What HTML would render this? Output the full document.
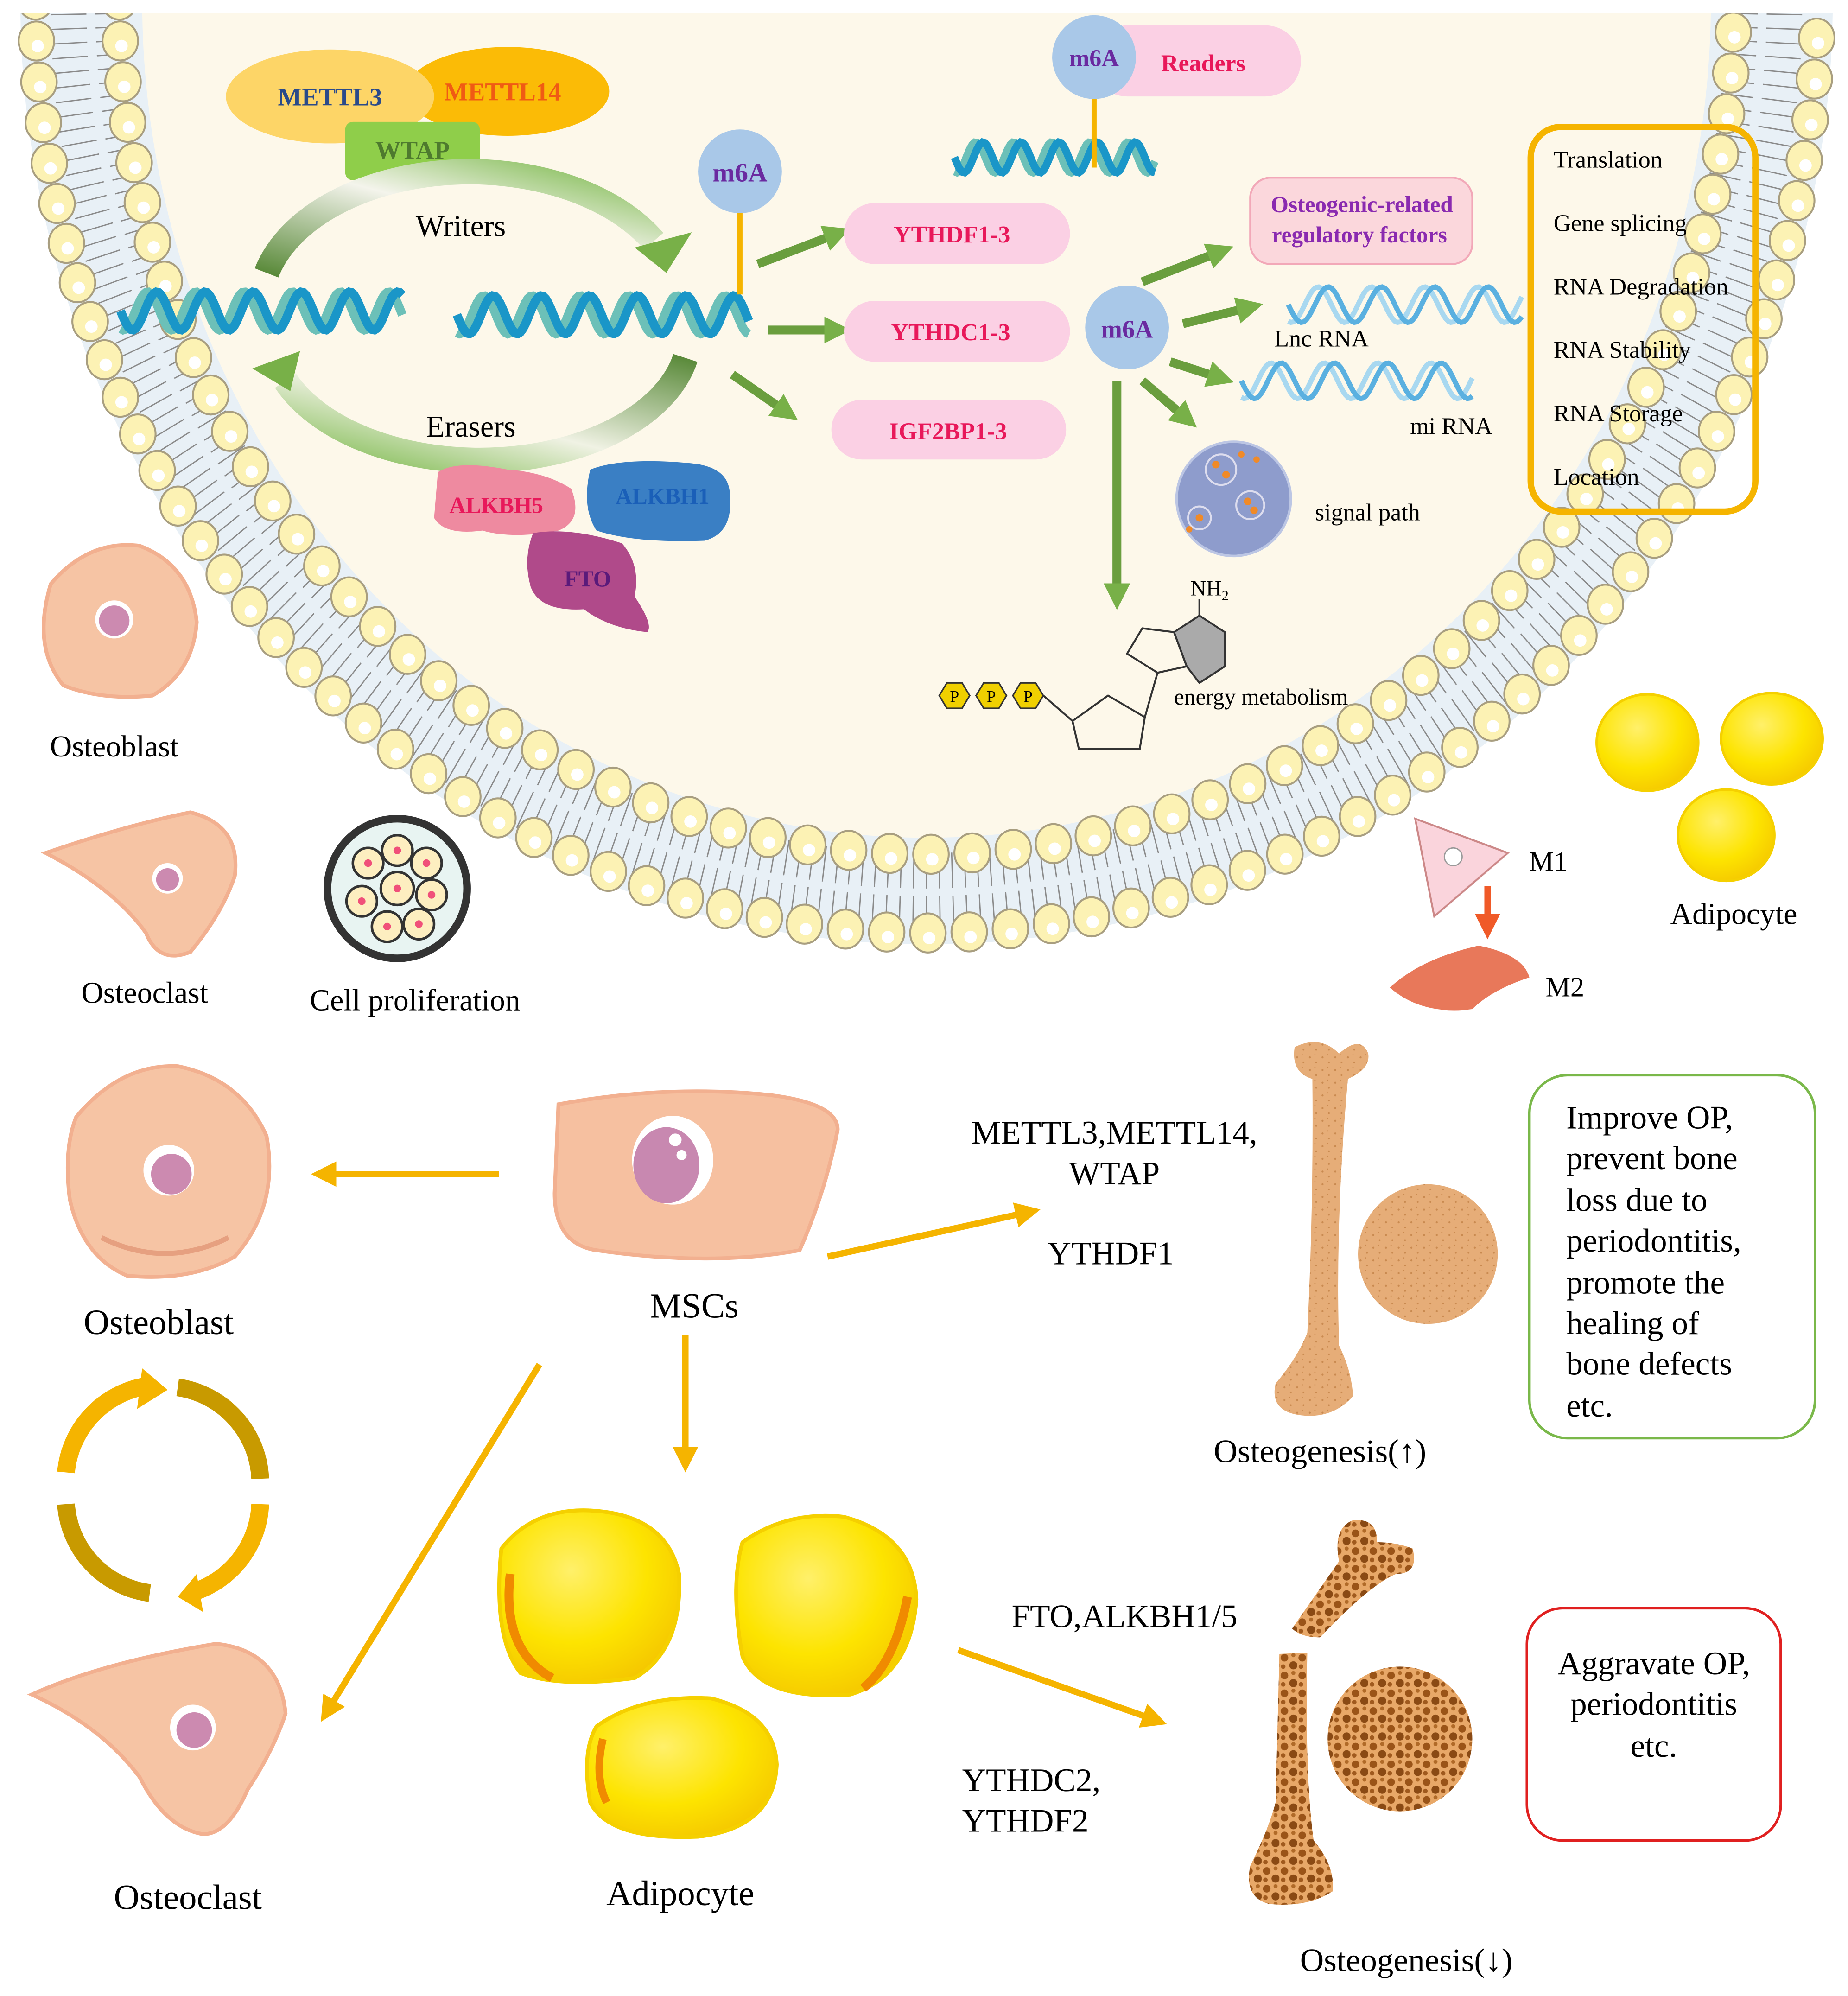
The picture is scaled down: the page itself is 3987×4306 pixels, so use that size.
<!DOCTYPE html>
<html><head><meta charset="utf-8"><style>
html,body{margin:0;padding:0;background:#fff;}
svg{display:block;}
text{font-family:"Liberation Serif",serif;}
</style></head><body>
<svg id="s" width="3987" height="4306" viewBox="0 0 1456 1572.5" xmlns="http://www.w3.org/2000/svg">
<defs>
<linearGradient id="gw" x1="0" y1="1" x2="1" y2="0"><stop offset="0" stop-color="#5a8a3a"/><stop offset="0.55" stop-color="#f4f4ec"/><stop offset="1" stop-color="#7ab84a"/></linearGradient>
<linearGradient id="ge" x1="1" y1="0" x2="0" y2="1"><stop offset="0" stop-color="#5a8a3a"/><stop offset="0.55" stop-color="#f0f2e4"/><stop offset="1" stop-color="#7ab84a"/></linearGradient>
<radialGradient id="ad" cx="0.4" cy="0.35" r="0.7"><stop offset="0" stop-color="#fff06a"/><stop offset="0.6" stop-color="#fde400"/><stop offset="1" stop-color="#f5c800"/></radialGradient>
<pattern id="tex1" width="10" height="10" patternUnits="userSpaceOnUse"><rect width="10" height="10" fill="#e6ad78"/><circle cx="2" cy="3" r="0.8" fill="#c98a50"/><circle cx="7" cy="7" r="0.7" fill="#c98a50"/><circle cx="6" cy="1" r="0.5" fill="#c98a50"/></pattern>
<pattern id="tex2" width="14" height="14" patternUnits="userSpaceOnUse"><rect width="14" height="14" fill="#e8a868"/><circle cx="4" cy="4" r="3" fill="#9a5418"/><circle cx="11" cy="10" r="3.2" fill="#8a4a14"/><circle cx="11" cy="2" r="1.6" fill="#b06a28"/><circle cx="3" cy="11" r="1.8" fill="#a05a1e"/></pattern>
<clipPath id="top"><rect x="0" y="10" width="1456" height="1562"/></clipPath>
<marker id="ay" markerWidth="4" markerHeight="4" refX="2" refY="2" orient="auto" markerUnits="strokeWidth"><path d="M0,0 L4,2 L0,4 Z" fill="#f5b400"/></marker>
<marker id="ag" markerWidth="3" markerHeight="3" refX="1.5" refY="1.5" orient="auto" markerUnits="strokeWidth"><path d="M0,0 L3,1.5 L0,3 Z" fill="#78b048"/></marker>
<marker id="ao" markerWidth="4" markerHeight="4" refX="2" refY="2" orient="auto" markerUnits="strokeWidth"><path d="M0,0 L4,2 L0,4 Z" fill="#f05a28"/></marker>
</defs>

<g clip-path="url(#top)">
<ellipse cx="730" cy="0" rx="714" ry="744" fill="#e8f0f6"/>
<ellipse cx="730" cy="0" rx="618" ry="660" fill="#fdf8ea"/>
<g id="mem"></g>
</g>

<!-- Writers complex -->
<ellipse cx="400" cy="72" rx="80" ry="35" fill="#fbbb06"/>
<ellipse cx="260" cy="76" rx="82" ry="37" fill="#fdd567"/>
<rect x="272" y="96" width="106" height="46" rx="6" fill="#8fce4a"/>
<text x="260" y="83" font-size="20" font-weight="bold" fill="#2a4a8a" text-anchor="middle">METTL3</text>
<text x="396" y="79" font-size="20" font-weight="bold" fill="#f05a14" text-anchor="middle">METTL14</text>
<text x="325" y="125" font-size="20" font-weight="bold" fill="#4e7a2e" text-anchor="middle">WTAP</text>
<path d="M210,215 A165,105 0 0 1 515,190" fill="none" stroke="url(#gw)" stroke-width="20"/>
<path d="M500,195 L545,183 L525,215 Z" fill="#78b048"/>
<path d="M540,282 A165,100 0 0 1 225,300" fill="none" stroke="url(#ge)" stroke-width="20"/>
<path d="M200,283 L240,283 L222,310 Z" fill="#78b048" transform="rotate(-20 220 290)"/>
<text x="363" y="186" font-size="24" text-anchor="middle">Writers</text>
<text x="371" y="344" font-size="24" text-anchor="middle">Erasers</text>
<g id="hx"></g>

<!-- m6A middle -->
<line x1="583" y1="165" x2="583" y2="232" stroke="#f5b400" stroke-width="4"/>
<circle cx="583" cy="135" r="33" fill="#a9c8e8"/>
<text x="583" y="143" font-size="21" font-weight="bold" fill="#6a2aa0" text-anchor="middle">m6A</text>
<g stroke="#6a9e3e" stroke-width="7" fill="none" marker-end="url(#ag)">
<line x1="597" y1="208" x2="660" y2="184"/>
<line x1="605" y1="260" x2="660" y2="260"/>
<line x1="577" y1="295" x2="620" y2="325"/>
</g>
<rect x="665" y="160" width="178" height="48" rx="24" fill="#fbd0e4"/>
<rect x="665" y="237" width="178" height="48" rx="24" fill="#fbd0e4"/>
<rect x="655" y="315" width="185" height="47" rx="24" fill="#fbd0e4"/>
<g font-size="19" font-weight="bold" fill="#e8185a" text-anchor="middle">
<text x="750" y="191">YTHDF1-3</text><text x="749" y="268">YTHDC1-3</text><text x="747" y="346">IGF2BP1-3</text>
</g>

<!-- Erasers proteins -->
<path d="M345,372 Q360,362 400,370 Q430,372 450,385 Q460,410 440,418 Q405,425 380,418 Q350,422 342,408 Z" fill="#ee8aa0"/>
<path d="M465,370 Q490,360 545,365 Q575,368 575,390 Q578,420 555,426 Q500,428 470,418 Q458,400 465,370 Z" fill="#3a7fc4"/>
<path d="M420,420 Q450,415 490,428 Q505,445 500,470 Q515,492 510,498 Q480,495 460,480 Q425,482 418,462 Q412,440 420,420 Z" fill="#b04a8a"/>
<text x="391" y="404" font-size="18" font-weight="bold" fill="#e8185a" text-anchor="middle">ALKBH5</text>
<text x="522" y="397" font-size="18" font-weight="bold" fill="#1a5fb8" text-anchor="middle">ALKBH1</text>
<text x="463" y="462" font-size="18" font-weight="bold" fill="#5a1a7a" text-anchor="middle">FTO</text>

<!-- Readers -->
<rect x="860" y="20" width="165" height="56" rx="28" fill="#fbd0e4"/>
<line x1="862" y1="76" x2="862" y2="132" stroke="#f5b400" stroke-width="4"/>
<circle cx="862" cy="45" r="33" fill="#a9c8e8"/>
<text x="862" y="52" font-size="19" font-weight="bold" fill="#6a2aa0" text-anchor="middle">m6A</text>
<text x="948" y="56" font-size="19" font-weight="bold" fill="#e8185a" text-anchor="middle">Readers</text>

<!-- m6A right -->
<g stroke="#6a9e3e" stroke-width="7" fill="none" marker-end="url(#ag)">
<line x1="900" y1="222" x2="962" y2="198"/>
<line x1="932" y1="255" x2="985" y2="242"/>
<line x1="922" y1="285" x2="962" y2="298"/>
<line x1="900" y1="300" x2="935" y2="330"/>
<line x1="880" y1="300" x2="880" y2="470"/>
</g>
<circle cx="888" cy="258" r="33" fill="#a9c8e8"/>
<text x="888" y="266" font-size="20" font-weight="bold" fill="#6a2aa0" text-anchor="middle">m6A</text>
<rect x="985" y="140" width="175" height="68" rx="16" fill="#fbd7dc" stroke="#f2a8b8" stroke-width="1.5"/>
<text x="1073" y="167" font-size="18" font-weight="bold" fill="#8a2ab0" text-anchor="middle">Osteogenic-related</text>
<text x="1071" y="191" font-size="18" font-weight="bold" fill="#8a2ab0" text-anchor="middle">regulatory factors</text>
<g font-size="19">
<text x="1004" y="273">Lnc RNA</text><text x="1111" y="342">mi RNA</text><text x="1036" y="410">signal path</text>
</g>
<circle cx="972" cy="393" r="45" fill="#8e9ccc" stroke="#bcc6e4" stroke-width="2"/>
<circle cx="962" cy="370" r="12" fill="none" stroke="#dde" stroke-width="1.5"/>
<circle cx="985" cy="398" r="11" fill="none" stroke="#dde" stroke-width="1.5"/>
<circle cx="945" cy="408" r="9" fill="none" stroke="#dde" stroke-width="1.5"/>
<g fill="#f08a28"><circle cx="958" cy="366" r="3"/><circle cx="966" cy="374" r="3"/><circle cx="983" cy="395" r="3"/><circle cx="988" cy="402" r="3"/><circle cx="945" cy="408" r="3"/><circle cx="978" cy="358" r="2.5"/><circle cx="990" cy="362" r="2.5"/><circle cx="937" cy="417" r="2.5"/></g>

<!-- Box -->
<rect x="1206" y="100" width="177" height="303" rx="24" fill="none" stroke="#f5b400" stroke-width="5"/>
<g font-size="19">
<text x="1224" y="132">Translation</text><text x="1224" y="182">Gene splicing</text><text x="1224" y="232">RNA Degradation</text>
<text x="1224" y="282">RNA Stability</text><text x="1224" y="332">RNA Storage</text><text x="1224" y="382">Location</text>
</g>

<!-- ATP -->
<g fill="#f0d000" stroke="#333" stroke-width="1.2">
<polygon points="740,548 746,538 758,538 764,548 758,558 746,558"/>
<polygon points="769,548 775,538 787,538 793,548 787,558 775,558"/>
<polygon points="798,548 804,538 816,538 822,548 816,558 804,558"/>
</g>
<g font-size="13" text-anchor="middle"><text x="752" y="553">P</text><text x="781" y="553">P</text><text x="810" y="553">P</text></g>
<g fill="none" stroke="#333" stroke-width="1.5">
<path d="M822,548 L845,568 M845,568 L850,590 L898,590 L902,565 L873,548 L845,568"/>
<path d="M902,565 L912,530 L888,515 L900,495 L925,498 L935,525 L912,530"/>
<polygon points="925,498 945,485 965,498 965,525 945,538 935,525" fill="#aaa"/>
<line x1="945" y1="485" x2="945" y2="472"/>
</g>
<text x="938" y="469" font-size="17">NH<tspan font-size="11" dy="4">2</tspan></text>
<text x="925" y="555" font-size="18">energy metabolism</text>

<!-- small cells top-left -->
<path d="M40,460 Q70,425 110,430 Q150,445 155,490 Q152,530 120,548 Q80,552 50,540 Q25,510 40,460 Z" fill="#f6c4a4" stroke="#f2b090" stroke-width="3"/>
<circle cx="90" cy="488" r="15" fill="#fff"/><circle cx="90" cy="489" r="12" fill="#cc8ab0"/>
<text x="90" y="596" font-size="24" text-anchor="middle">Osteoblast</text>
<path d="M36,672 Q100,650 150,640 Q190,650 185,690 Q175,720 150,750 Q125,760 115,735 Q90,700 36,672 Z" fill="#f6c4a4" stroke="#f2b090" stroke-width="3"/>
<circle cx="132" cy="692" r="12" fill="#fff"/><circle cx="132" cy="693" r="9" fill="#cc8ab0"/>
<text x="114" y="790" font-size="24" text-anchor="middle">Osteoclast</text>
<circle cx="313" cy="700" r="55" fill="#e8f4f2" stroke="#333" stroke-width="6"/>
<g fill="#fdeec0" stroke="#333" stroke-width="2">
<circle cx="313" cy="700" r="13"/><circle cx="290" cy="680" r="12"/><circle cx="313" cy="670" r="12"/><circle cx="336" cy="680" r="12"/><circle cx="340" cy="705" r="12"/><circle cx="330" cy="728" r="12"/><circle cx="305" cy="730" r="12"/><circle cx="285" cy="710" r="12"/>
</g>
<g fill="#f0507a"><circle cx="313" cy="700" r="3"/><circle cx="290" cy="680" r="3"/><circle cx="313" cy="670" r="3"/><circle cx="336" cy="680" r="3"/><circle cx="340" cy="705" r="3"/><circle cx="330" cy="728" r="3"/><circle cx="305" cy="730" r="3"/><circle cx="285" cy="710" r="3"/></g>
<text x="327" y="796" font-size="24" text-anchor="middle">Cell proliferation</text>

<!-- M1 M2 small adipocytes -->
<path d="M1115,645 L1188,672 L1130,722 Z" fill="#fad4dc" stroke="#c88" stroke-width="1.5"/>
<circle cx="1145" cy="675" r="7" fill="#fff" stroke="#999"/>
<text x="1220" y="686" font-size="22" text-anchor="middle">M1</text>
<line x1="1172" y1="698" x2="1172" y2="730" stroke="#f05a28" stroke-width="5" marker-end="url(#ao)"/>
<path d="M1095,778 Q1120,755 1165,745 Q1200,752 1205,770 Q1175,780 1160,795 Q1120,800 1095,778 Z" fill="#e8785a"/>
<text x="1233" y="785" font-size="22" text-anchor="middle">M2</text>
<g fill="url(#ad)" stroke="#f5d000" stroke-width="2">
<ellipse cx="1298" cy="585" rx="40" ry="38"/><ellipse cx="1396" cy="582" rx="40" ry="36"/><ellipse cx="1360" cy="658" rx="38" ry="36"/>
</g>
<text x="1366" y="728" font-size="24" text-anchor="middle">Adipocyte</text>

<!-- Lower section -->
<path d="M60,880 Q95,838 140,840 Q190,850 210,895 Q220,950 185,990 Q150,1010 100,1005 Q65,990 55,945 Q50,905 60,880 Z" fill="#f6c4a4" stroke="#f2b090" stroke-width="3"/>
<path d="M80,975 Q130,1000 180,975" fill="none" stroke="#e6a080" stroke-width="4"/>
<circle cx="133" cy="922" r="20" fill="#fff"/><circle cx="135" cy="925" r="16" fill="#cc8ab0"/>
<text x="125" y="1051" font-size="28" text-anchor="middle">Osteoblast</text>
<line x1="393" y1="925" x2="255" y2="925" stroke="#f5b400" stroke-width="5" marker-end="url(#ay)"/>
<path d="M440,870 Q520,855 600,862 Q660,868 660,890 Q650,940 630,985 Q560,998 470,985 Q437,980 437,940 Z" fill="#f6c0a0" stroke="#f2b090" stroke-width="3"/>
<ellipse cx="530" cy="914" rx="32" ry="35" fill="#fff"/><ellipse cx="525" cy="918" rx="26" ry="30" fill="#c888b0"/>
<circle cx="532" cy="898" r="5" fill="#fff"/><circle cx="537" cy="910" r="4" fill="#fff"/>
<text x="547" y="1038" font-size="28" text-anchor="middle">MSCs</text>
<line x1="652" y1="990" x2="810" y2="955" stroke="#f5b400" stroke-width="5" marker-end="url(#ay)"/>
<line x1="540" y1="1052" x2="540" y2="1150" stroke="#f5b400" stroke-width="5" marker-end="url(#ay)"/>
<line x1="425" y1="1075" x2="258" y2="1348" stroke="#f5b400" stroke-width="5" marker-end="url(#ay)"/>
<g font-size="26" text-anchor="middle">
<text x="878" y="901">METTL3,METTL14,</text><text x="878" y="933">WTAP</text><text x="875" y="996">YTHDF1</text>
<text x="886" y="1282">FTO,ALKBH1/5</text>
</g>
<g font-size="26"><text x="758" y="1411">YTHDC2,</text><text x="758" y="1443">YTHDF2</text></g>

<!-- cycle arrows -->
<path d="M52,1160 A76,76 0 0 1 115,1092" fill="none" stroke="#f5b400" stroke-width="14"/>
<path d="M112,1078 L132,1095 L108,1110 Z" fill="#f5b400"/>
<path d="M140,1093 A76,76 0 0 1 205,1165" fill="none" stroke="#c89a00" stroke-width="14"/>
<path d="M205,1185 A76,76 0 0 1 150,1255" fill="none" stroke="#f5b400" stroke-width="14"/>
<path d="M155,1240 L140,1258 L160,1270 Z" fill="#f5b400"/>
<path d="M52,1185 A76,76 0 0 0 118,1255" fill="none" stroke="#c89a00" stroke-width="14"/>

<path d="M25,1335 Q80,1310 170,1295 Q220,1300 225,1350 Q215,1380 195,1410 Q180,1445 160,1445 Q130,1440 110,1400 Q80,1360 25,1335 Z" fill="#f6c4a4" stroke="#f2b090" stroke-width="3"/>
<circle cx="152" cy="1361" r="18" fill="#fff"/><circle cx="153" cy="1363" r="14" fill="#cc8ab0"/>
<text x="148" y="1504" font-size="28" text-anchor="middle">Osteoclast</text>

<g fill="url(#ad)" stroke="#f5d000" stroke-width="3">
<path d="M395,1220 Q420,1188 465,1190 Q525,1193 535,1240 Q538,1300 500,1322 Q440,1330 410,1318 Q388,1290 395,1220 Z"/>
<path d="M585,1215 Q620,1190 665,1195 Q720,1210 722,1260 Q718,1320 670,1335 Q600,1340 585,1305 Q575,1250 585,1215 Z"/>
<path d="M470,1360 Q505,1335 560,1338 Q610,1350 612,1390 Q610,1440 550,1447 Q480,1450 465,1420 Q458,1380 470,1360 Z"/>
</g>
<path d="M402,1240 Q395,1300 435,1322" fill="none" stroke="#f08a00" stroke-width="7"/>
<path d="M715,1258 Q705,1310 680,1330" fill="none" stroke="#f08a00" stroke-width="7"/>
<path d="M475,1370 Q468,1400 478,1420" fill="none" stroke="#f08a00" stroke-width="6"/>
<text x="536" y="1501" font-size="28" text-anchor="middle">Adipocyte</text>

<!-- bones -->
<path d="M1020,825 Q1040,815 1055,830 Q1072,815 1078,830 Q1080,842 1062,850 Q1052,960 1055,1060 Q1065,1080 1066,1100 Q1050,1118 1025,1115 Q1000,1112 1005,1090 Q1022,1070 1030,1050 Q1035,950 1034,850 Q1017,845 1020,825 Z" fill="url(#tex1)"/>
<circle cx="1125" cy="988" r="55" fill="url(#tex1)"/>
<text x="1040" y="1152" font-size="26" text-anchor="middle">Osteogenesis(↑)</text>
<path d="M1018,1283 L1055,1230 Q1050,1205 1065,1198 Q1085,1195 1085,1215 Q1100,1215 1113,1220 Q1118,1240 1100,1240 Q1080,1248 1040,1290 Q1025,1290 1018,1283 Z" fill="url(#tex2)"/>
<path d="M1008,1303 L1030,1302 Q1028,1400 1035,1450 Q1052,1470 1050,1490 Q1030,1503 1000,1500 Q980,1495 985,1470 Q1000,1440 1005,1420 Z" fill="url(#tex2)"/>
<circle cx="1103" cy="1370" r="57" fill="url(#tex2)"/>
<text x="1108" y="1553" font-size="26" text-anchor="middle">Osteogenesis(↓)</text>
<line x1="755" y1="1300" x2="910" y2="1355" stroke="#f5b400" stroke-width="5" marker-end="url(#ay)"/>

<rect x="1205" y="847" width="225" height="286" rx="30" fill="none" stroke="#7ab84a" stroke-width="2"/>
<g font-size="26"><text x="1234" y="889">Improve OP,</text><text x="1234" y="921">prevent bone</text><text x="1234" y="954">loss due to</text><text x="1234" y="986">periodontitis,</text><text x="1234" y="1019">promote the</text><text x="1234" y="1051">healing of</text><text x="1234" y="1083">bone defects</text><text x="1234" y="1116">etc.</text></g>
<rect x="1203" y="1267" width="200" height="183" rx="28" fill="none" stroke="#e02020" stroke-width="2"/>
<g font-size="26" text-anchor="middle"><text x="1303" y="1319">Aggravate OP,</text><text x="1303" y="1351">periodontitis</text><text x="1303" y="1384">etc.</text></g>
</svg>
<script>
(function(){
var NS="http://www.w3.org/2000/svg";
var mem=document.getElementById('mem');
function el(t,a,p){var e=document.createElementNS(NS,t);for(var k in a)e.setAttribute(k,a[k]);p.appendChild(e);return e;}
function ring(rx,ry,r){
  var cx=730,cy=0,t=0,prev=null,acc=100;
  for(var i=0;i<=4000;i++){
    t=Math.PI*i/4000;
    var x=cx-rx*Math.cos(t),y=cy+ry*Math.sin(t);
    if(prev){acc+=Math.hypot(x-prev[0],y-prev[1]);}
    prev=[x,y];
    if(acc>=32 && y>-10){acc=0;
      var g=el('g',{},mem);
      el('ellipse',{cx:x,cy:y,rx:r,ry:r*1.1,fill:'#fcf2b4',stroke:'#a89e80','stroke-width':1.5},g);
      el('circle',{cx:x+1,cy:y+4,r:r*0.35,fill:'#fff'},g);
    }
  }
}
(function(){var cx=730;for(var i=0;i<=200;i++){var t=Math.PI*i/200;var c=Math.cos(t),s=Math.sin(t);
 el('line',{x1:cx-690*c,y1:738*s,x2:cx-662*c,y2:706*s,stroke:'#8a8a8a','stroke-width':1},mem);
 el('line',{x1:cx-655*c,y1:700*s,x2:cx-630*c,y2:672*s,stroke:'#8a8a8a','stroke-width':1},mem);}})();
ring(702,735,14);
ring(636,673,14);
var hx=document.getElementById('hx');
function helix(x0,x1,yc,amp,per,c1,c2,w){
  var d1='',d2='';
  for(var x=x0;x<=x1;x+=2){var ph=2*Math.PI*(x-x0)/per;
    d1+=(x==x0?'M':'L')+x+','+(yc+amp*Math.sin(ph));
    d2+=(x==x0?'M':'L')+x+','+(yc+amp*Math.sin(ph+1.2));}
  el('path',{d:d2,fill:'none',stroke:c2,'stroke-width':w},hx);
  el('path',{d:d1,fill:'none',stroke:c1,'stroke-width':w},hx);
}
helix(95,318,245,15,38,'#1a96c8','#6cc0b8',7);
helix(360,590,248,15,38,'#1a96c8','#6cc0b8',7);
helix(752,910,124,12,30,'#1a96c8','#6cc0b8',6);
helix(1015,1200,240,14,42,'#5ab0e0','#a8d8f0',4);
helix(978,1160,300,14,42,'#5ab0e0','#a8d8f0',4);
})();
</script>
</body></html>
